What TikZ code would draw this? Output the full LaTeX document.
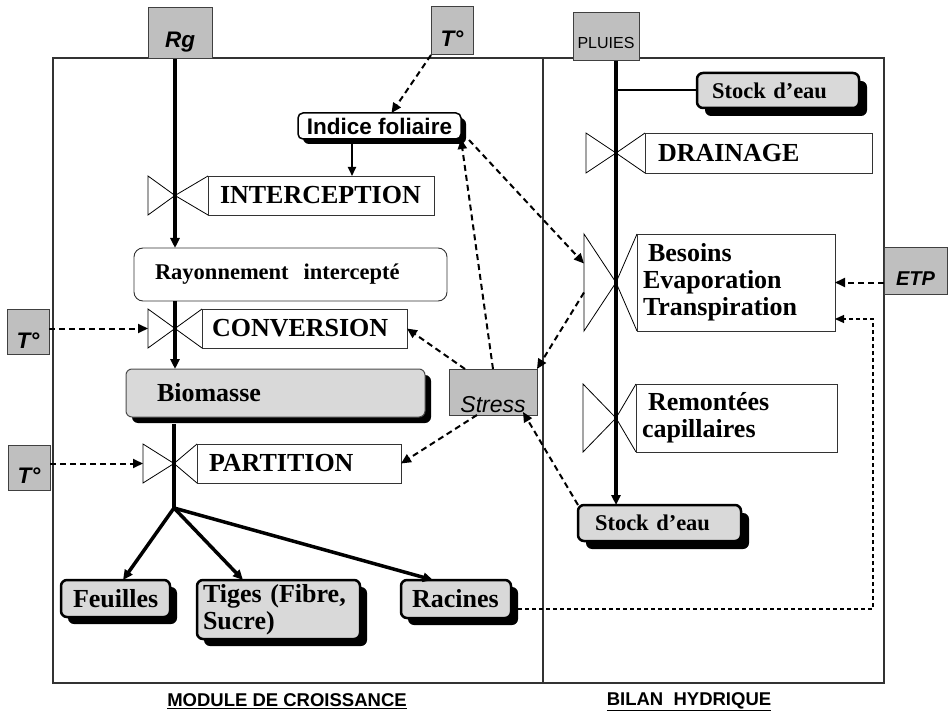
\documentclass[tikz,border=0pt]{standalone}
\usepackage{fontspec}
\setmainfont{Liberation Serif}
\setsansfont{Liberation Sans}
\usetikzlibrary{arrows.meta,backgrounds}

\newcommand{\taillegrande}{\fontsize{26}{27}\selectfont}
\newcommand{\taillemoyenne}{\fontsize{22.5}{24}\selectfont}
% vanne : nom, x gauche, x pointe, x droite, y haut, y bas
\newcommand{\vanne}[6]{%
  \coordinate (#1-l) at (#2,{(#5+#6)/2});
  \draw[valve] (#2,#5) -- (#2,#6) -- (#3,{(#5+#6)/2}) -- cycle;
  \draw[valve] (#4,#5) -- (#3,{(#5+#6)/2}) -- (#4,#6);
}
% ombre noire sous une boite : noeud, decalage
\newcommand{\ombre}[2]{%
  \fill[black, rounded corners=6pt] ([shift={(#2pt,-#2pt)}]#1.south west) rectangle ([shift={(#2pt,-#2pt)}]#1.north east);
}

\begin{document}
\begin{tikzpicture}[
    x=1pt, y=-1pt,
    frame/.style={line width=1.2pt, draw=black!80},
    source/.style={draw=black!75, fill=black!25, line width=1pt, inner sep=0pt, outer sep=0pt,
                   anchor=base, font=\sffamily\bfseries\itshape\taillemoyenne},
    process/.style={draw=black!80, fill=white, line width=0.9pt, inner ysep=0pt, outer sep=0pt,
                    anchor=west, align=left, font=\bfseries\taillegrande},
    pool/.style={draw=black, fill=black!15, line width=2.5pt, rounded corners=6pt, outer sep=0pt,
                 inner ysep=0pt, anchor=west, align=left, font=\bfseries\taillegrande},
    valve/.style={line width=0.8pt, fill=white},
    flow/.style={line width=3.5pt, -{Triangle[length=10pt,width=9pt]}},
    influence/.style={line width=2pt, dash pattern=on 6pt off 4pt, -{Triangle[length=10pt,width=9pt]}},
    retour/.style={line width=1.3pt, dash pattern=on 4pt off 3pt, -{Triangle[length=9pt,width=8pt]}}
  ]
  \useasboundingbox (0,0) rectangle (948,714);

  % Modules
  \draw[frame] (53,58) rectangle (543,683);
  \draw[frame] (543,58) rectangle (884,683);
  \node[font=\sffamily\bfseries\fontsize{18.5}{20}\selectfont] (titreG) at (287,701) {\underline{MODULE DE CROISSANCE}};
  \node[font=\sffamily\bfseries\fontsize{18.5}{20}\selectfont] (titreD) at (689,702) {\underline{BILAN\ \ HYDRIQUE}};

  % Vannes
  \vanne{vinter}{148}{175}{208}{176}{215}
  \vanne{vconv}{148}{175}{202}{309}{348}
  \vanne{vpart}{143}{174}{197}{444}{483}
  \vanne{vdrain}{586}{616}{645}{133}{173}
  \vanne{vbes}{584}{616}{637}{234}{331}
  \vanne{vrem}{583}{616}{636}{384}{452}

  % Entrees
  \node[source, minimum width=64pt, text height=40pt, text depth=11pt] (rg) at (180,48) {Rg};
  \node[source, minimum width=42pt, text height=40pt, text depth=8pt] (tH) at (452,47) {T°};
  \node[source, minimum width=66pt, text height=36pt, text depth=12pt,
        font=\sffamily\fontsize{16}{18}\selectfont] (pluies) at (606,49) {PLUIES};
  \node[source, minimum width=42pt, text height=39pt, text depth=6pt] (tC) at (28,348) {T°};
  \node[source, minimum width=42pt, text height=38pt, text depth=7pt] (tP) at (29,483) {T°};
  \node[source, minimum width=63pt, text height=37pt, text depth=9pt,
        font=\sffamily\bfseries\itshape\fontsize{20}{22}\selectfont] (etp) at (915.5,285) {ETP};
  \node[source, minimum width=88pt, text height=43pt, text depth=3pt,
        font=\sffamily\itshape\fontsize{23}{25}\selectfont] (stress) at (493,412) {Stress};

  % Croissance
  \node[draw, fill=white, line width=1.5pt, rounded corners=5pt, inner sep=0pt, outer sep=0pt,
        minimum width=163pt, minimum height=26pt, font=\sffamily\bfseries\taillemoyenne] (indice) at (379.5,126) {Indice foliaire};
  \node[process, text width=202pt, inner xsep=12pt, minimum height=39pt] (inter) at (208,195.5) {INTERCEPTION};
  \node[process, rounded corners=9pt, text width=271pt, inner xsep=21pt, minimum height=53pt,
        font=\bfseries\taillemoyenne] (ray) at (134,274.5) {Rayonnement\ \ intercepté};
  \node[process, text width=185pt, inner xsep=10pt, minimum height=39pt] (conv) at (202,328.5) {CONVERSION};
  \node[pool, draw=black!70, line width=1pt, text width=237pt, inner xsep=31pt, minimum height=48pt] (bio) at (126,393) {Biomasse};
  \node[process, text width=180pt, inner xsep=12pt, minimum height=39pt] (part) at (197,463.5) {PARTITION};
  \node[pool, text width=85pt, inner xsep=12pt, minimum height=37pt] (feuilles) at (61,598.5) {Feuilles};
  \node[pool, text width=151pt, inner xsep=6pt, minimum height=59pt] (tiges) at (197,609.5) {Tiges (Fibre,\\Sucre)};
  \node[pool, text width=88pt, inner xsep=11pt, minimum height=38pt] (racines) at (401,599) {Racines};

  % Bilan hydrique
  \node[pool, text width=132pt, inner xsep=15pt, minimum height=35pt, font=\bfseries\taillemoyenne] (stockH) at (697,90.5) {Stock d'eau};
  \node[process, text width=201pt, inner xsep=13pt, minimum height=40pt] (drain) at (645,153) {DRAINAGE};
  \node[process, text width=186pt, inner xsep=6pt, minimum height=97pt] (bes) at (637,282.5)
        {\hspace*{5pt}Besoins\\Evaporation\\Transpiration};
  \node[process, text width=189pt, inner xsep=6pt, minimum height=68pt] (rem) at (636,418)
        {\hspace*{6pt}Remontées\\capillaires};
  \node[pool, text width=129pt, inner xsep=17pt, minimum height=36pt, font=\bfseries\taillemoyenne] (stockB) at (578,523) {Stock d'eau};

  % Ombres
  \begin{pgfonlayer}{background}
    \ombre{indice}{5}
    \ombre{bio}{6}
    \ombre{feuilles}{7}
    \ombre{tiges}{7}
    \ombre{racines}{7}
    \ombre{stockH}{8}
    \ombre{stockB}{8}
  \end{pgfonlayer}

  % Flux
  \coordinate (axeG) at (175,0);
  \coordinate (axeD) at (616,0);
  \coordinate (axeI) at (352,0);
  \coordinate (fourche) at (174,508);
  \draw[flow] (rg.south -| axeG) -- (ray.north -| axeG);
  \draw[flow] (ray.south -| axeG) -- (bio.north -| axeG);
  \draw[line width=3.5pt] ([yshift=-7pt]bio.south -| fourche) -- (fourche);
  \draw[flow] (fourche) -- ([xshift=7.5pt]feuilles.north);
  \draw[flow] (fourche) -- ([xshift=-35.5pt]tiges.north);
  \draw[flow] (fourche) -- ([xshift=-23pt]racines.north);
  \draw[line width=2pt, -{Triangle[length=9pt,width=8pt]}] (indice.south -| axeI) -- (inter.north -| axeI);
  \draw[flow] (pluies.south -| axeD) -- (stockB.north -| axeD);
  \draw[line width=2pt] (stockH.west -| axeD) -- (stockH.west);

  % Influences
  \draw[influence] (tH.south west) -- ([xshift=12pt]indice.north);
  \draw[influence] (tC.east |- vconv-l) -- (vconv-l);
  \draw[influence] (tP.east |- vpart-l) -- (vpart-l);
  \draw[influence] ([xshift=-28pt]stress.north) -- (conv.east);
  \draw[influence] (stress.north) -- (indice.south east);
  \draw[influence] ([xshift=8pt,yshift=-14pt]indice.east) -- ([yshift=19pt]vbes-l);
  \draw[influence] ([yshift=-10pt]vbes-l) -- (stress.north east);
  \draw[influence] ([xshift=-16pt]stress.south) -- (part.east);
  \draw[influence] (stockB.north west) -- ([xshift=30pt,yshift=3pt]stress.south);
  \draw[influence] (etp.west |- bes.east) -- (bes.east);
  \coordinate (coin) at (873,319);
  \draw[retour] ([yshift=-10pt]racines.east) -| (coin) -- (coin -| bes.east);
\end{tikzpicture}
\end{document}
